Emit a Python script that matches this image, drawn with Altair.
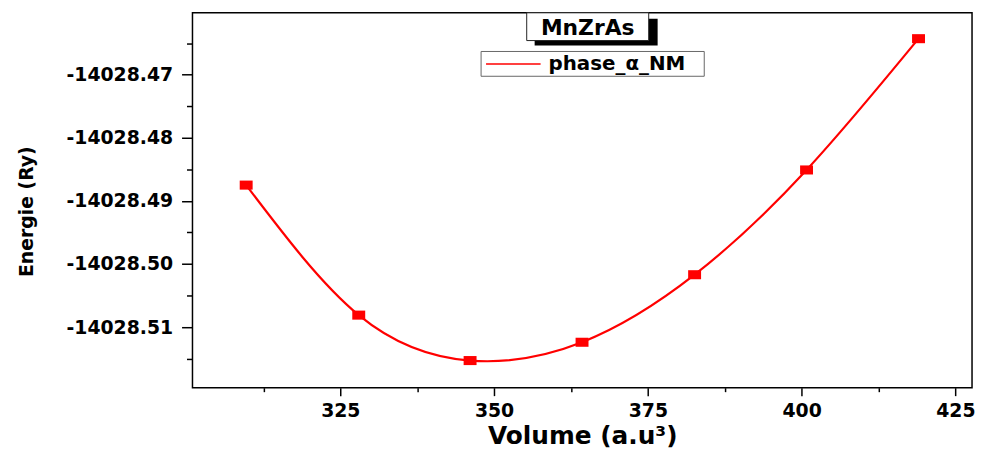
import altair as alt
import pandas as pd

# Data
volume = [309.7, 328.0, 346.1, 364.3, 382.6, 400.8, 419.0]
energy = [-14028.4875, -14028.5081, -14028.5153, -14028.5124, -14028.5017, -14028.4851, -14028.4643]
series_name = "phase_α_NM"

x_ticks = [312.5, 325, 337.5, 350, 362.5, 375, 387.5, 400, 412.5, 425]
y_ticks = [-14028.515, -14028.51, -14028.505, -14028.50, -14028.495, -14028.49,
           -14028.485, -14028.48, -14028.475, -14028.47, -14028.465]
x_domain = [300.97, 427.7]
y_domain = [-14028.5196, -14028.4602]
title_text = "MnZrAs"

df = pd.DataFrame({"Volume": volume, "Energie": energy})

FONT = "DejaVu Sans"
W, H = 786, 378
Y_MAJOR = "abs(datum.value*100 - round(datum.value*100)) < 0.1"

x_enc = alt.X(
    "Volume:Q",
    scale=alt.Scale(domain=x_domain, nice=False, zero=False),
    axis=alt.Axis(
        values=x_ticks, tickCount=40,
        title="Volume (a.u³)",
        titleFont=FONT, titleFontSize=25, titleFontWeight="bold", titleColor="black",
        titleX=W / 2, titleY=56, titleBaseline="alphabetic", titleAlign="center",
        labelFont=FONT, labelFontSize=19, labelFontWeight="bold", labelColor="black",
        labelExpr="datum.value % 25 == 0 ? datum.label : ''",
        labelPadding=6,
        tickSize={"condition": {"test": "datum.value % 25 == 0", "value": 8}, "value": 4},
        tickColor="black", tickWidth=1.5,
        domain=False, grid=False, labelFlush=False, labelOverlap=False,
    ),
)
y_enc = alt.Y(
    "Energie:Q",
    scale=alt.Scale(domain=y_domain, nice=False, zero=False),
    axis=alt.Axis(
        values=y_ticks, tickCount=40,
        title="Energie (Ry)",
        titleFont=FONT, titleFontSize=19, titleFontWeight="bold", titleColor="black",
        titleX=-167, titleY=H / 2 + 11, titleAngle=-90, titleBaseline="middle", titleAlign="center",
        labelFont=FONT, labelFontSize=19, labelFontWeight="bold", labelColor="black",
        labelExpr=Y_MAJOR + " ? replace(format(datum.value, '.2f'), '\u2212', '-') : ''",
        labelPadding=9,
        tickSize={"condition": {"test": Y_MAJOR, "value": 11}, "value": 6},
        tickColor="black", tickWidth=1.5,
        domain=False, grid=False, labelFlush=False, labelOverlap=False,
    ),
)

line = alt.Chart(df).mark_line(interpolate="natural", strokeWidth=2.2, color="#ff0000").encode(
    x=x_enc, y=y_enc
)

points = alt.Chart(df).mark_point(
    shape="M-1,-0.7H1V0.7H-1Z", filled=True, size=170, color="#ff0000", opacity=1
).encode(x="Volume:Q", y="Energie:Q")

one = alt.Data(values=[{}])

# title box with shadow
shadow = alt.Chart(one).mark_rect(color="black").encode(
    x=alt.value(345), x2=alt.value(469), y=alt.value(6), y2=alt.value(33)
)
box = alt.Chart(one).mark_rect(fill="white", stroke="#222222", strokeWidth=1).encode(
    x=alt.value(337), x2=alt.value(460), y=alt.value(0), y2=alt.value(28)
)
title = alt.Chart(one).mark_text(
    text=title_text, font=FONT, fontSize=22, fontWeight="bold", color="black",
    align="center", baseline="middle"
).encode(x=alt.value(398.5), y=alt.value(15))

# legend
leg_box = alt.Chart(one).mark_rect(fill="white", stroke="#666666", strokeWidth=1).encode(
    x=alt.value(291), x2=alt.value(516), y=alt.value(39), y2=alt.value(64)
)
leg_line = alt.Chart(one).mark_rule(color="#ff0000", strokeWidth=1.5).encode(
    x=alt.value(296), x2=alt.value(351), y=alt.value(51.5)
)
leg_text = alt.Chart(one).mark_text(
    text=series_name, font=FONT, fontSize=20, fontWeight="bold", color="black",
    align="left", baseline="middle"
).encode(x=alt.value(359), y=alt.value(52))

chart = alt.layer(line, points, shadow, box, title, leg_box, leg_line, leg_text).properties(
    width=W, height=H,
    background="white",
    autosize=alt.AutoSizeParams(type="none"),
    padding={"left": 186, "top": 3, "right": 4, "bottom": 65},
).configure_view(stroke="black", strokeWidth=1.5)

chart.save("out.html", embed_options={"renderer": "svg", "actions": False})
